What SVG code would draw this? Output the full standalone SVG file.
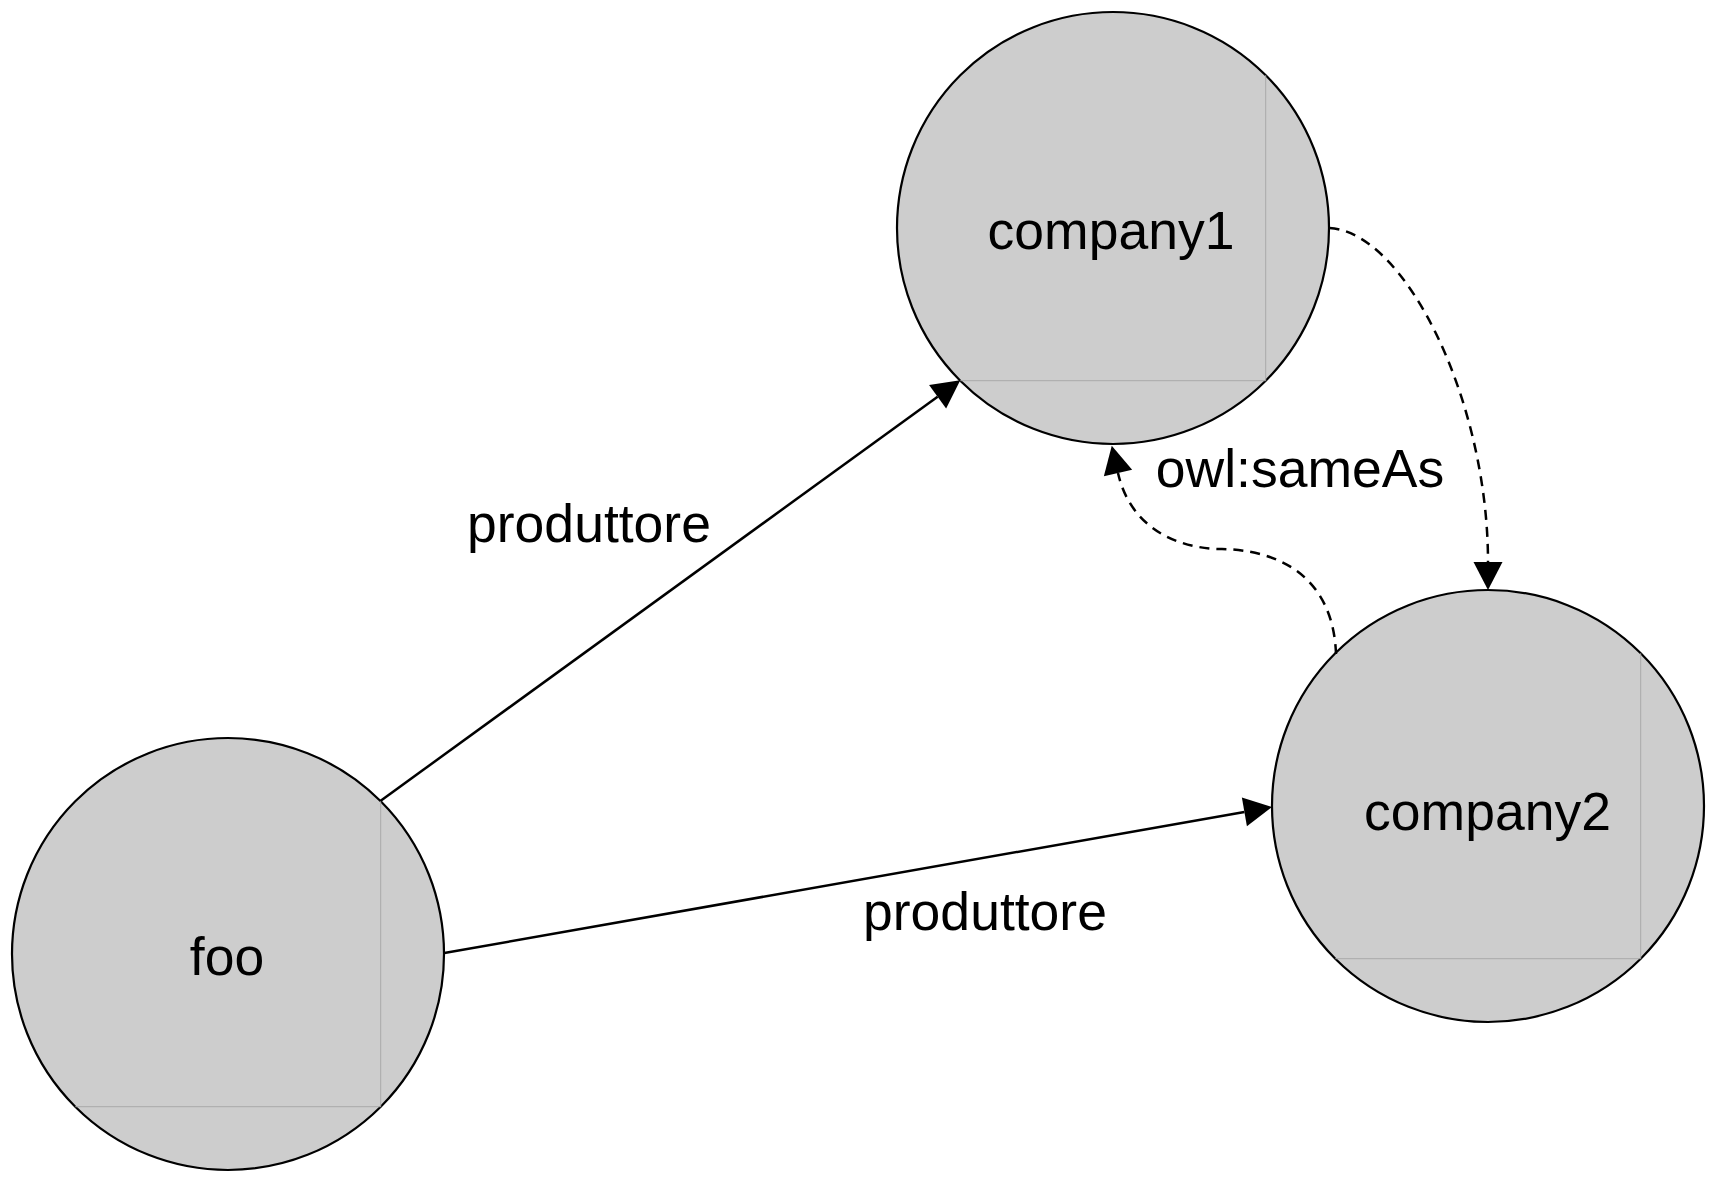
<svg xmlns="http://www.w3.org/2000/svg" width="1720" height="1178" viewBox="0 0 1720 1178">
<style>
.node circle{fill:#cdcdcd;stroke:#000;stroke-width:2.2}
.node line{stroke:#a9a9a9;stroke-width:1}
text{font-family:"Liberation Sans",Arial,Helvetica,sans-serif;font-size:53.5px;fill:#000;text-anchor:middle}
.edge{fill:none;stroke:#000;stroke-width:2.5}
.dash{stroke-dasharray:10 7}
</style>
<defs>
<marker id="arrow" markerUnits="userSpaceOnUse" markerWidth="30" markerHeight="30" refX="0" refY="14.5" orient="auto" overflow="visible">
<path d="M0,0 L28,14.5 L0,29 Z" fill="#000"/>
</marker>
</defs>
<rect width="1720" height="1178" fill="#fff"/>
<g id="company1" class="node">
<circle cx="1113" cy="228" r="216"/>
<line x1="1265.7" y1="75.3" x2="1265.7" y2="380.7"/>
<line x1="960.3" y1="380.7" x2="1265.7" y2="380.7"/>
<text x="1111" y="249">company1</text>
</g>
<g id="company2" class="node">
<circle cx="1488" cy="806" r="216"/>
<line x1="1640.7" y1="653.3" x2="1640.7" y2="958.7"/>
<line x1="1335.3" y1="958.7" x2="1640.7" y2="958.7"/>
<text x="1487.5" y="830">company2</text>
</g>
<g id="foo" class="node">
<circle cx="228" cy="954" r="216"/>
<line x1="380.7" y1="801.3" x2="380.7" y2="1106.7"/>
<line x1="75.3" y1="1106.7" x2="380.7" y2="1106.7"/>
<text x="227" y="975">foo</text>
</g>
<g id="connectors">
<path class="edge" d="M380.7,800.7 L937.6,396.7" marker-end="url(#arrow)"/>
<path class="edge" d="M444.3,953 L1244.4,811.9" marker-end="url(#arrow)"/>
<path class="edge dash" d="M1329.5,228 C1405,232 1488,400 1488,562" marker-end="url(#arrow)"/>
<path class="edge dash" d="M1336,654 C1334,595 1300,551 1222,549 C1180,549 1131,530 1118,473" marker-end="url(#arrow)"/>
<text x="589" y="542">produttore</text>
<text x="985" y="930">produttore</text>
<text x="1300" y="487">owl:sameAs</text>
</g>
</svg>
